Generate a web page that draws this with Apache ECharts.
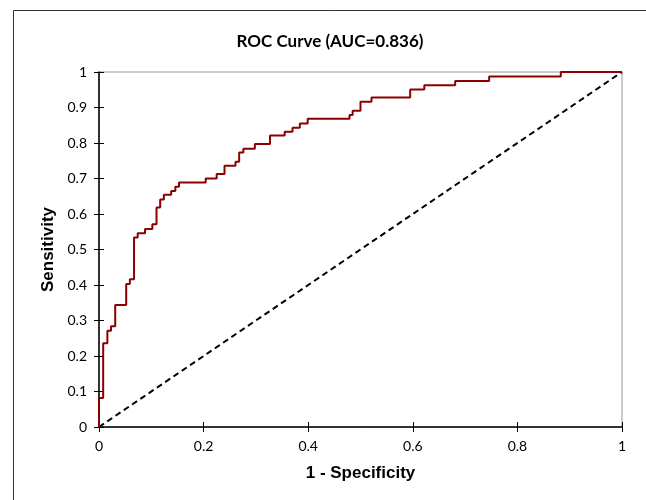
<!DOCTYPE html>
<html>
<head>
<meta charset="utf-8">
<script src="https://cdn.jsdelivr.net/npm/echarts@6/dist/echarts.min.js"></script>
<style>
  html, body { margin: 0; padding: 0; background: #fff; }
  #chart { width: 646px; height: 500px; }
</style>
</head>
<body>
<div id="chart"></div>
<script>
// ROC points (1 - specificity, sensitivity)
let fpr = [0, 0, 0.008, 0.016, 0.023, 0.031, 0.052, 0.059, 0.067, 0.074, 0.088, 0.102, 0.110, 0.117, 0.124, 0.138, 0.146, 0.153,
    0.204, 0.225, 0.240, 0.261, 0.268, 0.276, 0.298, 0.327, 0.355, 0.370, 0.384, 0.399, 0.479, 0.485, 0.500, 0.521,
    0.595, 0.622, 0.681, 0.746, 0.883, 1];
let tpr = [0, 0.082, 0.236, 0.271, 0.284, 0.344, 0.403, 0.416, 0.534, 0.546, 0.558, 0.571, 0.618, 0.641, 0.654, 0.665, 0.677, 0.689,
    0.700, 0.713, 0.736, 0.747, 0.773, 0.784, 0.797, 0.821, 0.832, 0.843, 0.855, 0.868, 0.879, 0.891, 0.916, 0.928,
    0.951, 0.963, 0.975, 0.987, 1.0, 1.0];
let diagonal = [[0, 0], [1, 1]];
let xTicks = [0, 0.2, 0.4, 0.6, 0.8, 1];
let yTicks = [0, 0.1, 0.2, 0.3, 0.4, 0.5, 0.6, 0.7, 0.8, 0.9, 1];

let narrow = 'Lato, "Open Sans", sans-serif';
let rocData = fpr.map((x, i) => [x, tpr[i]]);

let chart = echarts.init(document.getElementById('chart'));

let axisCommon = {
    type: 'value',
    min: 0,
    max: 1,
    splitLine: { show: false }
};

chart.setOption({
    animation: false,
    title: {
        text: 'ROC Curve (AUC=0.836)',
        left: 325,
        top: 28,
        textAlign: 'center',
        textStyle: { fontFamily: narrow, fontWeight: 'bold', fontSize: 17, color: '#000' }
    },
    graphic: [{
        type: 'rect',
        shape: { x: 13.5, y: 10.5, width: 700, height: 600 },
        style: { fill: 'none', stroke: '#333', lineWidth: 1 },
        silent: true
    }],
    grid: {
        left: 99, right: 24, top: 72, bottom: 73,
        show: true, borderColor: '#999', borderWidth: 1
    },
    xAxis: [
        Object.assign({}, axisCommon, {
            interval: 0.2,
            name: '1 - Specificity',
            nameLocation: 'middle',
            nameGap: 38,
            nameTextStyle: { fontFamily: 'Liberation Sans, Arial', fontWeight: 'bold', fontSize: 17, color: '#000' },
            axisLine: { lineStyle: { color: '#000', width: 1.5 } },
            axisTick: { length: 5, lineStyle: { color: '#000' } },
            axisLabel: {
                margin: 12, fontFamily: narrow, fontSize: 14, color: '#000',
                formatter: v => xTicks.includes(+v.toFixed(1)) ? String(+v.toFixed(1)) : ''
            }
        }),
        Object.assign({}, axisCommon, {
            interval: 0.2,
            position: 'bottom',
            axisLine: { show: false },
            axisTick: { inside: true, length: 5, lineStyle: { color: '#000' } },
            axisLabel: { show: false }
        })
    ],
    yAxis: [
        Object.assign({}, axisCommon, {
            interval: 0.1,
            name: 'Sensitivity',
            nameLocation: 'middle',
            nameGap: 35,
            nameTextStyle: { fontFamily: 'Liberation Sans, Arial', fontWeight: 'bold', fontSize: 17, color: '#000' },
            axisLine: { lineStyle: { color: '#000', width: 1.5 } },
            axisTick: { length: 5, lineStyle: { color: '#000' } },
            axisLabel: {
                margin: 12, fontFamily: narrow, fontSize: 14, color: '#000',
                formatter: v => {
                    let r = +v.toFixed(1);
                    return yTicks.includes(r) ? String(r) : '';
                }
            }
        }),
        Object.assign({}, axisCommon, {
            interval: 0.1,
            position: 'left',
            axisLine: { show: false },
            axisTick: { inside: true, length: 5, lineStyle: { color: '#000' } },
            axisLabel: { show: false }
        })
    ],
    series: [
        {
            type: 'line',
            data: diagonal,
            symbol: 'none',
            lineStyle: { color: '#000', width: 2, type: [6, 4] },
            silent: true
        },
        {
            type: 'line',
            data: rocData,
            step: 'end',
            symbol: 'none',
            lineStyle: { color: '#8b0000', width: 2 },
            silent: true
        }
    ]
});
</script>
</body>
</html>
